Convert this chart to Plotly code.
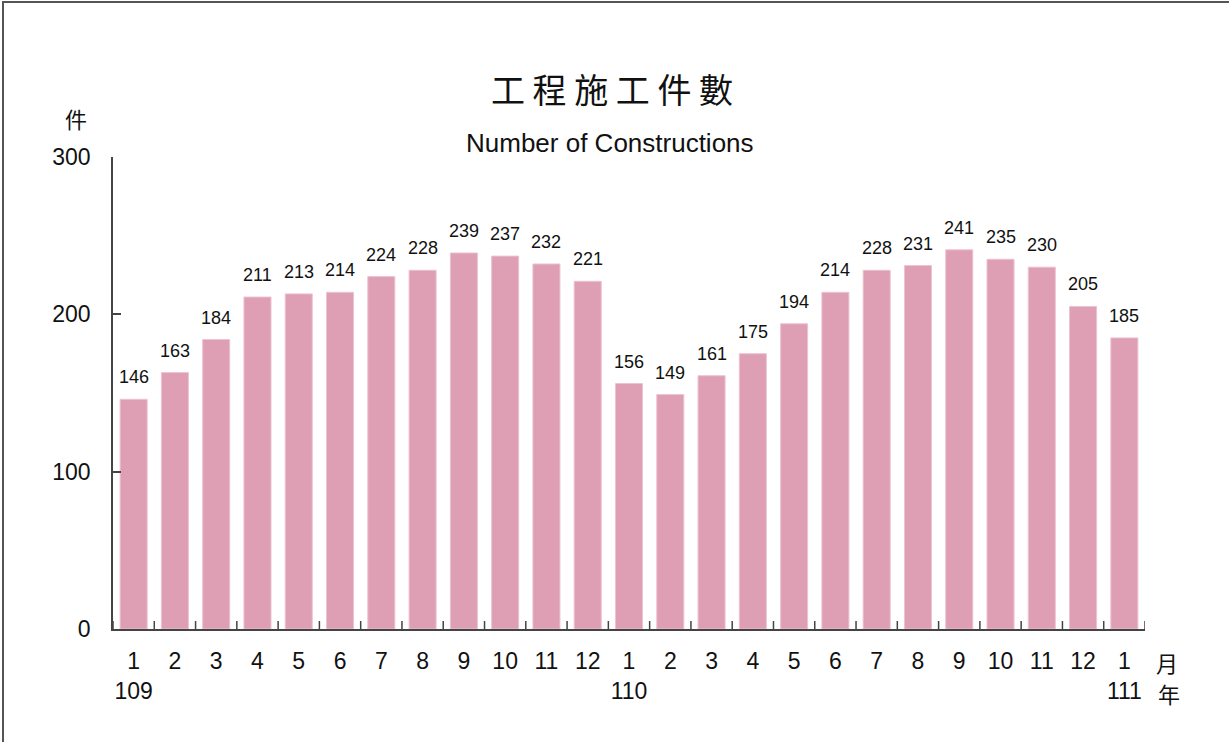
import plotly.graph_objects as go

months = ["1", "2", "3", "4", "5", "6", "7", "8", "9", "10", "11", "12",
          "1", "2", "3", "4", "5", "6", "7", "8", "9", "10", "11", "12", "1"]
years = {0: "109", 12: "110", 24: "111"}
values = [146, 163, 184, 211, 213, 214, 224, 228, 239, 237, 232, 221,
          156, 149, 161, 175, 194, 214, 228, 231, 241, 235, 230, 205, 185]

title_zh = "工 程 施 工 件 數"
title_en = "Number of Constructions"
unit_y = "件"
unit_month = "月"
unit_year = "年"

cats = list(range(len(values)))
ticktext = [m + ("<br>" + years[i] if i in years else "") for i, m in enumerate(months)]

NARROW = "Liberation Sans Narrow, Arial Narrow, Liberation Sans, Arial, sans-serif"
CJK = "Noto Sans CJK TC, Noto Sans CJK SC, sans-serif"

W, H = 1229, 742
L, R, T, B = 113, 1145, 157, 629

def px(x):
    return (x - L) / (R - L)

def py(y):
    return (B - y) / (B - T)

fig = go.Figure(go.Bar(
    x=cats, y=values,
    marker=dict(color="#DE9FB4", line=dict(color="#ECC3D0", width=1)),
    hoverinfo="x+y",
))

for c, v in zip(cats, values):
    fig.add_annotation(x=c, y=v, xref="x", yref="y", text=str(v), showarrow=False,
                       yanchor="bottom", xanchor="center", yshift=10,
                       font=dict(family=NARROW, size=18, color="#111"))

fig.update_layout(
    width=W, height=H,
    margin=dict(l=L, r=W - R, t=T, b=H - B),
    paper_bgcolor="white", plot_bgcolor="white",
    bargap=0.345, showlegend=False,
    font=dict(family=NARROW, color="#111"),
    xaxis=dict(
        type="linear", range=[-0.5, len(values) - 0.5],
        tickvals=cats, ticktext=ticktext, ticks="", showgrid=False,
        showline=True, linecolor="#444", linewidth=1.5,
        tickfont=dict(family=NARROW, size=23, color="#111"),
        ticklabelstandoff=11, zeroline=False,
    ),
    yaxis=dict(
        range=[0, 300], tickvals=[0, 100, 200, 300], showgrid=False,
        ticks="inside", ticklen=8, tickcolor="#444", tickwidth=1.5,
        showline=True, linecolor="#444", linewidth=1.5,
        tickfont=dict(family=NARROW, size=23, color="#111"),
        ticklabelstandoff=16, zeroline=False,
    ),
)

# x tick marks at category boundaries (inside, pointing up)
for i in range(len(values) + 1):
    fig.add_shape(type="line", xref="x", yref="paper",
                  x0=i - 0.5, x1=i - 0.5, y0=0, y1=py(B - 8),
                  line=dict(color="#444", width=1.5))

# frame border (top & left visible)
fig.add_shape(type="rect", xref="paper", yref="paper",
              x0=px(3), x1=px(1240), y0=py(760), y1=py(2),
              line=dict(color="#555", width=2), fillcolor="rgba(0,0,0,0)", layer="below")

fig.add_annotation(text=title_zh, xref="paper", yref="paper", x=px(612), y=py(88),
                   showarrow=False, font=dict(family=CJK, size=34, color="#111"),
                   xanchor="center", yanchor="middle")
fig.add_annotation(text=title_en, xref="paper", yref="paper", x=px(610), y=py(143),
                   showarrow=False, font=dict(family=NARROW, size=26, color="#111"),
                   xanchor="center", yanchor="middle")
fig.add_annotation(text=unit_y, xref="paper", yref="paper", x=px(76), y=py(118),
                   showarrow=False, font=dict(family=CJK, size=22, color="#111"),
                   xanchor="center", yanchor="middle")
fig.add_annotation(text=unit_month, xref="paper", yref="paper", x=px(1167), y=py(662),
                   showarrow=False, font=dict(family=CJK, size=22, color="#111"),
                   xanchor="center", yanchor="middle")
fig.add_annotation(text=unit_year, xref="paper", yref="paper", x=px(1169), y=py(693),
                   showarrow=False, font=dict(family=CJK, size=22, color="#111"),
                   xanchor="center", yanchor="middle")

fig.write_html("out.html", config={"displayModeBar": False},
               post_script="document.body.style.margin='0';document.body.style.overflow='hidden';")
